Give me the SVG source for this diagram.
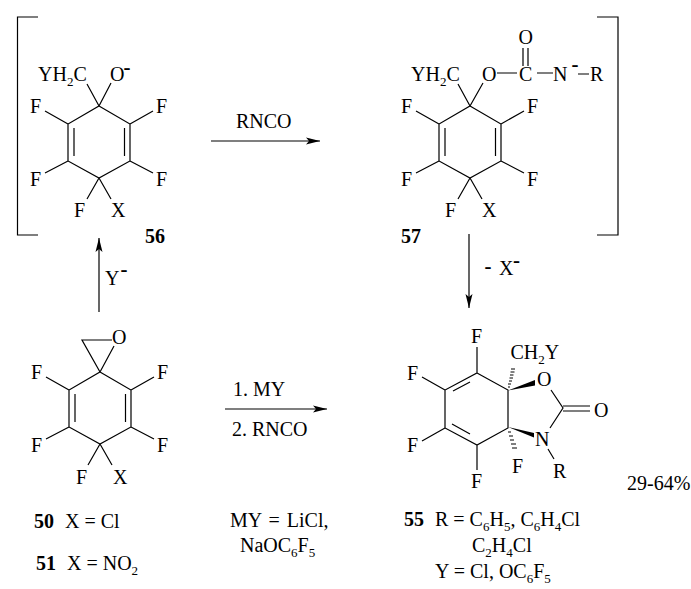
<svg xmlns="http://www.w3.org/2000/svg" width="691" height="589" viewBox="0 0 691 589">
<style>
text{font-family:"Liberation Serif","Times New Roman",serif;font-size:20px;fill:#000}
.b{font-weight:bold}
.m{font-weight:bold;font-size:21px}
.s{font-size:13px}
line,.l{stroke:#000;stroke-width:1.2;fill:none}
.h{stroke:#000;stroke-width:1;fill:none}
.f{fill:#000;stroke:none}
</style>
<defs>
<marker id="a" markerWidth="18" markerHeight="10" refX="15" refY="5" orient="auto" markerUnits="userSpaceOnUse"><path class="f" d="M15 5L1 1.500L4 5L1 8.500Z"/></marker>
<g id="ring">
<path class="l" d="M99 106L130 124V161L99 178L68 161V124ZM74 128V156M124.500 128V156M68 124L45 111M130 124L153 111M68 161L45 173M130 161L153 173M99 178L87 199M99 178L111 199"/>
</g>
</defs>
<g id="node-56">
<path class="l" d="M38 17H17.500V235H38"/>
<use href="#ring"/>
<path class="l" d="M99 106L87 84M99 106L111 83"/>
<text x="38" y="81">YH<tspan class="s" dy="5">2</tspan><tspan dy="-5">C</tspan></text>
<text x="110" y="81">O</text><text class="m" x="123.500" y="73.500">-</text>
<text x="30" y="113">F</text><text x="156" y="113">F</text><text x="30" y="186">F</text><text x="156" y="186">F</text><text x="74" y="217">F</text><text x="111" y="217">X</text>
<text class="b" x="145" y="243">56</text>
</g>
<g id="node-57">
<path class="l" d="M597 17H618V235H597"/>
<use href="#ring" x="371"/>
<path class="l" d="M470 106L458 84M470 106L483 83M523 48V66M528 48V66M497 73H517M537 73H553M578 74H589"/>
<text x="411" y="81">YH<tspan class="s" dy="5">2</tspan><tspan dy="-5">C</tspan></text>
<text x="482" y="81">O</text><text x="518.500" y="44">O</text><text x="519" y="81">C</text>
<text x="553" y="81">N</text><text class="m" x="571.500" y="70.500">-</text><text x="590" y="81">R</text>
<text x="401" y="113">F</text><text x="527" y="113">F</text><text x="401" y="186">F</text><text x="527" y="186">F</text><text x="445" y="217">F</text><text x="482" y="217">X</text>
<text class="b" x="401" y="243">57</text>
</g>
<g id="node-50">
<path class="l" d="M100 372L131 390V427L100 444L69 427V390ZM75 394V422M125.500 394V422M69 390L46 377M131 390L154 377M69 427L46 439M131 427L154 439M100 444L88 465M100 444L112 465M100 372L82 340H112M100 372L114 346"/>
<text x="112" y="344">O</text>
<text x="31" y="379">F</text><text x="157" y="379">F</text><text x="31" y="452">F</text><text x="157" y="452">F</text><text x="76" y="484">F</text><text x="113" y="484">X</text>
<text class="b" x="34" y="528">50</text><text x="65" y="528">X = Cl</text>
<text class="b" x="36" y="570">51</text><text x="67" y="570">X = NO<tspan class="s" dy="5">2</tspan></text>
</g>
<g id="node-55">
<path class="l" d="M477 373L508 390V428L477 445L445 428V390ZM453 391L470 382M452 424L470 434M477 373V347M445 390L422 377M445 428L422 441M477 445V470M551 390L563 408L550 428M563 406H590M563 411H590M548 449L554 459"/>
<path class="f" d="M508 390.500L535 380L535 385.500Z"/>
<path class="f" d="M508 427L534 433L534 437.500Z"/>
<path class="h" d="M508 387H510M508 384H511M509 381H512M509.500 378H513M510 375H513.500M510.500 372H514.500M511 369H515M508 432H511M509 436H513M510 440H514M511 444H516M512 448H517"/>
<text x="471" y="343">F</text><text x="510.500" y="359">CH<tspan class="s" dy="5">2</tspan><tspan dy="-5">Y</tspan></text>
<text x="537" y="386">O</text><text x="594" y="417">O</text><text x="535" y="446">N</text><text x="553" y="478">R</text>
<text x="407" y="380">F</text><text x="407" y="452">F</text><text x="512" y="473">F</text><text x="471" y="488">F</text>
<text x="627" y="490">29-64%</text>
<text class="b" x="404" y="526">55</text>
<text x="435" y="526">R = C<tspan class="s" dy="5">6</tspan><tspan dy="-5">H</tspan><tspan class="s" dy="5">5</tspan><tspan dy="-5">, C</tspan><tspan class="s" dy="5">6</tspan><tspan dy="-5">H</tspan><tspan class="s" dy="5">4</tspan><tspan dy="-5">Cl</tspan></text>
<text x="472" y="552">C<tspan class="s" dy="5">2</tspan><tspan dy="-5">H</tspan><tspan class="s" dy="5">4</tspan><tspan dy="-5">Cl</tspan></text>
<text x="435" y="578">Y = Cl, OC<tspan class="s" dy="5">6</tspan><tspan dy="-5">F</tspan><tspan class="s" dy="5">5</tspan></text>
</g>
<g id="connectors">
<line x1="211" y1="141" x2="320" y2="141" marker-end="url(#a)"/>
<line x1="99" y1="312" x2="99" y2="238" marker-end="url(#a)"/>
<line x1="469" y1="234" x2="469" y2="308" marker-end="url(#a)"/>
<line x1="225" y1="409" x2="327" y2="409" marker-end="url(#a)"/>
</g>
<g id="labels">
<text x="236" y="128">RNCO</text>
<text x="105" y="285">Y</text><text class="m" x="120.500" y="275.500">-</text>
<text class="m" x="484.500" y="272.500">-</text><text x="499" y="275">X</text><text class="m" x="513" y="266.500">-</text>
<text x="233" y="396">1. MY</text>
<text x="232" y="436">2. RNCO</text>
<text x="230" y="527" word-spacing="2">MY = LiCl,</text>
<text x="240" y="552">NaOC<tspan class="s" dy="5">6</tspan><tspan dy="-5">F</tspan><tspan class="s" dy="5">5</tspan></text>
</g>
</svg>
